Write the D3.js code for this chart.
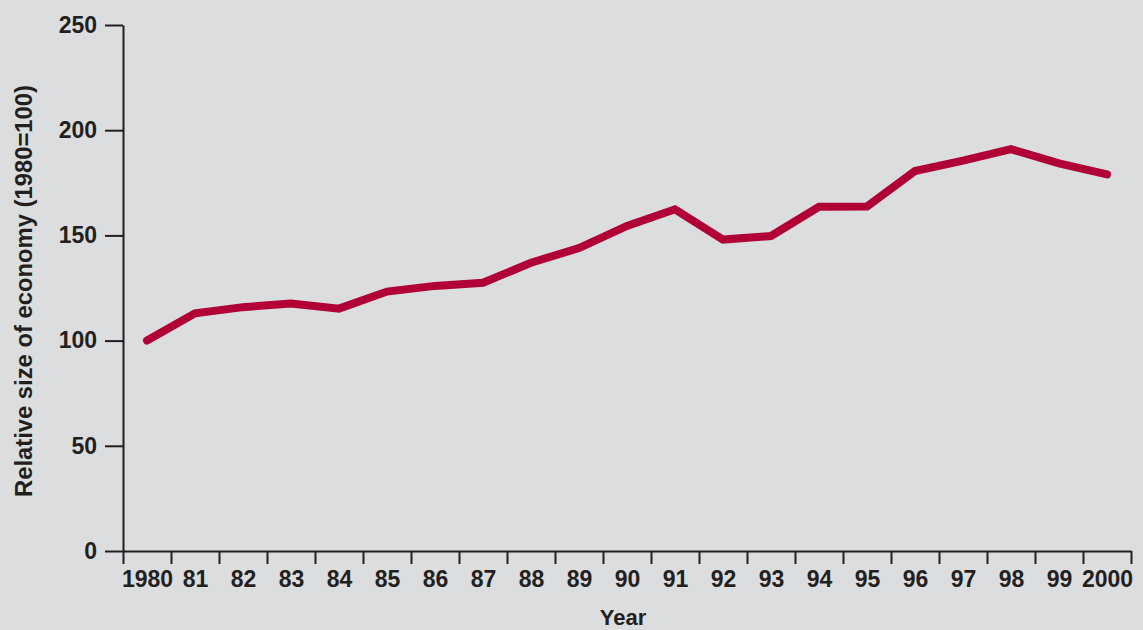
<!DOCTYPE html>
<html>
<head>
<meta charset="utf-8">
<script src="https://cdn.jsdelivr.net/npm/d3@7"></script>
<style>
  body { margin: 0; background: #dcdddf; }
  svg { display: block; font-family: "Liberation Sans", Arial, sans-serif; font-weight: bold; }
</style>
</head>
<body>
<div id="chart"></div>
<script>
// relative size of economy, 1980 = 100
const years = d3.range(1980, 2001)
const yearLabels = ['1980', '81', '82', '83', '84', '85', '86', '87', '88', '89', '90',
  '91', '92', '93', '94', '95', '96', '97', '98', '99', '2000']
const values = [100, 113, 115.9, 117.6, 115.2, 123.3, 126, 127.5, 137, 144, 154.5,
  162.4, 148, 149.7, 163.6, 163.7, 180.6, 185.5, 191, 184.2, 179]
const yTicks = [0, 50, 100, 150, 200, 250]

const width = 1143
const height = 630
const ink = '#231f20'

const svg = d3.select('#chart')
  .append('svg')
  .attr('width', width)
  .attr('height', height)

svg.append('rect')
  .attr('width', width)
  .attr('height', height)
  .attr('fill', '#dcdddf')

// years sit in the middle of each slot, ticks mark the slot edges
const xScale = d3.scaleLinear().domain([1979.5, 2000.5]).range([123, 1131])
const yScale = d3.scaleLinear().domain([0, 250]).range([551, 25])

// x tick marks (slot edges)
svg.append('g')
  .attr('transform', `translate(0, ${yScale(0)})`)
  .call(d3.axisBottom(xScale)
    .tickValues(d3.range(1979.5, 2001, 1))
    .tickSize(13)
    .tickSizeOuter(0)
    .tickFormat(''))
  .call((g) => g.selectAll('path, line').attr('stroke', ink).attr('stroke-width', 2))

// x labels
svg.append('g')
  .attr('transform', `translate(0, ${yScale(0)})`)
  .call(d3.axisBottom(xScale)
    .tickValues(years)
    .tickSize(0)
    .tickPadding(20)
    .tickFormat((d, i) => yearLabels[i]))
  .call((g) => g.select('.domain').remove())
  .call((g) => g.selectAll('text')
    .attr('fill', ink)
    .style('font-size', '23px')
    .style('font-weight', 'bold')
    .style('font-family', '"Liberation Sans", Arial, sans-serif'))

// y axis
svg.append('g')
  .attr('transform', `translate(${xScale(1979.5)}, 0)`)
  .call(d3.axisLeft(yScale)
    .tickValues(yTicks)
    .tickSize(18)
    .tickSizeOuter(0)
    .tickPadding(8))
  .call((g) => g.selectAll('path, line').attr('stroke', ink).attr('stroke-width', 2))
  .call((g) => g.selectAll('text')
    .attr('fill', ink)
    .style('font-size', '23px')
    .style('font-weight', 'bold')
    .style('font-family', '"Liberation Sans", Arial, sans-serif'))

// axis titles
svg.append('text')
  .attr('x', 623)
  .attr('y', 625)
  .attr('text-anchor', 'middle')
  .attr('fill', ink)
  .style('font-size', '22px')
  .text('Year')

svg.append('text')
  .attr('transform', 'translate(32, 291) rotate(-90)')
  .attr('text-anchor', 'middle')
  .attr('fill', ink)
  .style('font-size', '23.8px')
  .text('Relative size of economy (1980=100)')

// the line
const makeLine = d3.line()
  .x((d, i) => xScale(years[i]))
  .y((d) => yScale(d))

svg.append('path')
  .datum(values)
  .attr('fill', 'none')
  .attr('stroke', '#b00035')
  .attr('stroke-width', 8)
  .attr('stroke-linecap', 'round')
  .attr('stroke-linejoin', 'miter')
  .attr('d', makeLine)
</script>
</body>
</html>
